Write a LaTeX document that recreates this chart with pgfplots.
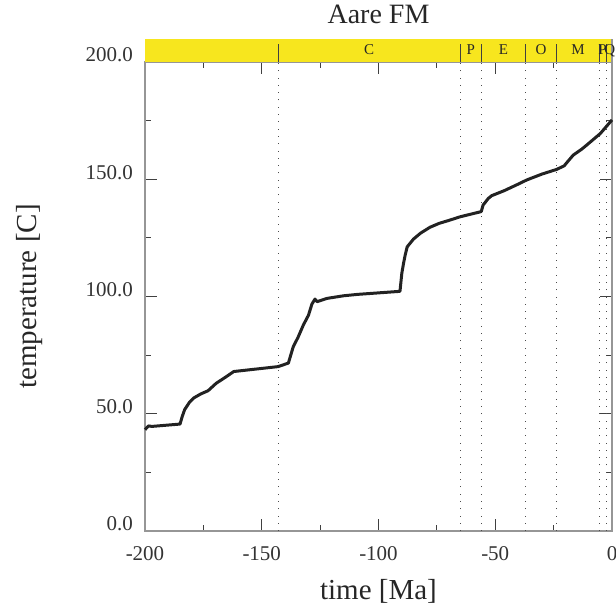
\documentclass[border=0pt]{standalone}
\usepackage{fontspec}
\setmainfont{Liberation Serif}
\usepackage{pgfplots}
\pgfplotsset{compat=1.18}

\definecolor{bandyellow}{RGB}{247,230,30}
\definecolor{spinegray}{RGB}{150,150,150}
\definecolor{curvegray}{RGB}{34,34,34}
\tikzset{bandlabel/.style={anchor=base, inner sep=0pt, font=\fontsize{15}{17}\selectfont, text=black!85}}

\begin{document}
\begin{tikzpicture}
\path[use as bounding box] (-145pt,-76pt) rectangle (471pt,531pt);
\clip (-145pt,-76pt) rectangle (471pt,531pt);
\begin{axis}[
  at={(0pt,0pt)}, anchor=south west,
  width=467pt, height=469pt, scale only axis,
  xmin=-200, xmax=0, ymin=0, ymax=200,
  clip=false,
  axis line style={spinegray, line width=1.3pt},
  xtick={-200,-150,-100,-50,0},
  xticklabels={-200,-150,-100,-50,0},
  ytick={0,50,100,150,200},
  yticklabels={0.0,50.0,100.0,150.0,200.0},
  minor x tick num=1, minor y tick num=1,
  tick align=inside,
  major tick length=12pt, minor tick length=6pt,
  tick style={black!75, line width=0.9pt},
  xtick pos=both, ytick pos=both,
  ticklabel pos=lower,
  tick label style={font=\fontsize{21}{24}\selectfont, text=black!80},
  yticklabel style={anchor=base east, inner sep=0pt, xshift=-12pt},
  xticklabel style={anchor=north, inner sep=0pt, yshift=-15pt},
  extra x ticks={-143,-65,-56,-37,-23.8,-5.3,-2.6},
  extra x tick labels={},
  extra x tick style={
    major tick length=0pt,
    grid=major,
    major grid style={black!70, line width=0.8pt, dash pattern=on 0.8pt off 6.5pt},
  },
  xlabel={time [Ma]},
  ylabel={temperature [C]},
  label style={font=\fontsize{29}{32}\selectfont, text=black!85},
  xlabel style={at={(axis description cs:0.5,0)}, anchor=base, yshift=-69pt},
  ylabel style={at={(axis description cs:0,0.5)}, anchor=center, yshift=115pt},
  title={Aare FM},
  title style={at={(axis description cs:0.5,1)}, anchor=base, yshift=32pt,
    font=\fontsize{28}{32}\selectfont, text=black!85},
]
% geological time band above the plot
\fill[bandyellow] (axis cs:-200,200) rectangle (axis cs:0,209.7);
\pgfplotsinvokeforeach{-143,-65,-56,-37,-23.8,-5.3,-2.6}{
  \draw[black!75, line width=0.8pt] (axis cs:#1,200) -- (axis cs:#1,207.7);
}
\draw[spinegray, line width=1.3pt] (axis cs:0,200) -- (axis cs:0,209.7);
\node[bandlabel] at (axis cs:-104,203) {C};
\node[bandlabel] at (axis cs:-60.5,203) {P};
\node[bandlabel] at (axis cs:-46.5,203) {E};
\node[bandlabel] at (axis cs:-30.4,203) {O};
\node[bandlabel] at (axis cs:-14.5,203) {M};
\node[bandlabel] at (axis cs:-4.0,203) {P};
\node[bandlabel] at (axis cs:-1.0,203) {Q};

\addplot[curvegray, line width=3pt, line join=round] coordinates {
(-200,43.2) (-198.5,44.8) (-197,44.6) (-185,45.6) (-184,49) (-183,51.8)
(-181,54.8) (-179,56.8) (-176,58.5) (-173,59.8) (-169.5,63) (-165.5,65.6)
(-162,68) (-143,70.1) (-138.6,71.6) (-136.5,78.6) (-134.5,82.5) (-132.2,87.8)
(-130,92) (-128.5,96.8) (-127.2,98.9) (-126.3,97.8) (-122,99.2) (-115,100.3)
(-109,100.9) (-90.8,102.2) (-90,110) (-89.3,114) (-88.5,118) (-87.7,121.2)
(-85,124.5) (-82,127) (-78,129.5) (-74,131.2) (-70,132.4) (-65,134)
(-56,136.2) (-55.2,139) (-54.4,140) (-53,141.8) (-51.5,143) (-46,145.2)
(-40,148) (-36.5,149.7) (-30,152.2) (-23.7,154.2) (-20.5,155.7) (-19,157.5)
(-16.6,160.3) (-13,162.8) (-10.8,164.6) (-5,169.5) (0,175.3)
};
\end{axis}
\end{tikzpicture}
\end{document}
